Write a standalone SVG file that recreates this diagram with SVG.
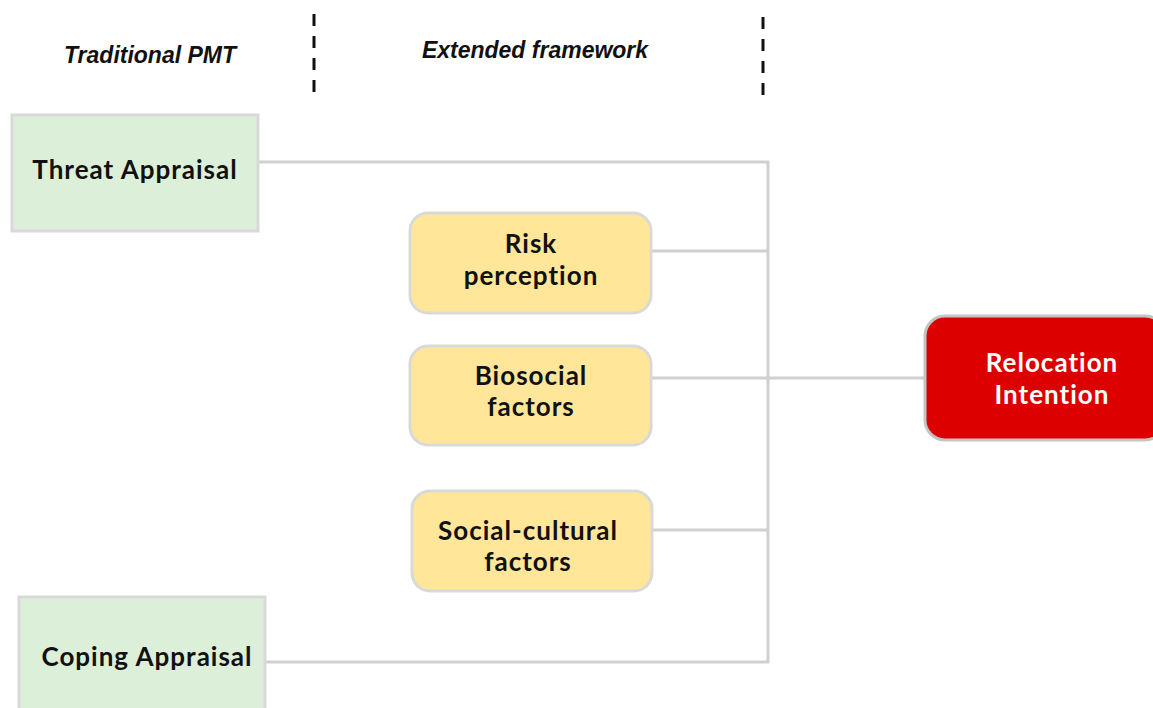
<svg xmlns="http://www.w3.org/2000/svg" width="1153" height="708" viewBox="0 0 1153 708">
<style>
.hdr{font-family:"Liberation Sans",Arial,sans-serif;font-weight:bold;font-style:italic;font-size:23px;fill:#111;text-anchor:middle}
.div{stroke:#111;stroke-width:3;stroke-dasharray:12 10;fill:none}
.green{fill:#dcefd8;stroke:#d9d9d9;stroke-width:3}
.yellow{fill:#ffe699;stroke:#d9d9d9;stroke-width:3}
.red{fill:#dc0000;stroke:#c4c4c4;stroke-width:3}
.lbl{font-family:Lato,"DejaVu Sans",sans-serif;font-weight:bold;font-size:26px;letter-spacing:1px;fill:#111;text-anchor:middle}
.wlbl{font-family:Lato,"DejaVu Sans",sans-serif;font-weight:bold;font-size:26px;letter-spacing:1px;fill:#fff;text-anchor:middle}
.conn{stroke:#d0d0d0;stroke-width:3;fill:none}
</style>
<rect width="1153" height="708" fill="#fff"/>
<g id="headers">
<text class="hdr" x="150" y="63">Traditional PMT</text>
<text class="hdr" x="535" y="58">Extended framework</text>
<line class="div" x1="314" y1="14" x2="314" y2="96"/>
<line class="div" x1="763" y1="17" x2="763" y2="99"/>
</g>
<g id="connectors">
<polyline class="conn" points="258,162 768,162 768,662 265,662"/>
<line class="conn" x1="651" y1="251" x2="768" y2="251"/>
<line class="conn" x1="651" y1="378" x2="925" y2="378"/>
<line class="conn" x1="652" y1="530" x2="768" y2="530"/>
</g>
<g id="threat">
<rect class="green" x="12" y="115" width="246" height="116"/>
<text class="lbl" x="135" y="179">Threat Appraisal</text>
</g>
<g id="coping">
<rect class="green" x="19" y="597" width="246" height="120"/>
<text class="lbl" x="147" y="666">Coping Appraisal</text>
</g>
<g id="risk">
<rect class="yellow" x="410" y="213" width="241" height="100" rx="18"/>
<text class="lbl" x="531" y="253">Risk</text>
<text class="lbl" x="531" y="285">perception</text>
</g>
<g id="biosocial">
<rect class="yellow" x="410" y="346" width="241" height="99" rx="18"/>
<text class="lbl" x="531" y="385">Biosocial</text>
<text class="lbl" x="531" y="416">factors</text>
</g>
<g id="social">
<rect class="yellow" x="412" y="491" width="240" height="100" rx="18"/>
<text class="lbl" x="528" y="540">Social-cultural</text>
<text class="lbl" x="528" y="571">factors</text>
</g>
<g id="relocation">
<rect class="red" x="925" y="316" width="240" height="124" rx="20"/>
<text class="wlbl" x="1052" y="372">Relocation</text>
<text class="wlbl" x="1052" y="404">Intention</text>
</g>
</svg>
